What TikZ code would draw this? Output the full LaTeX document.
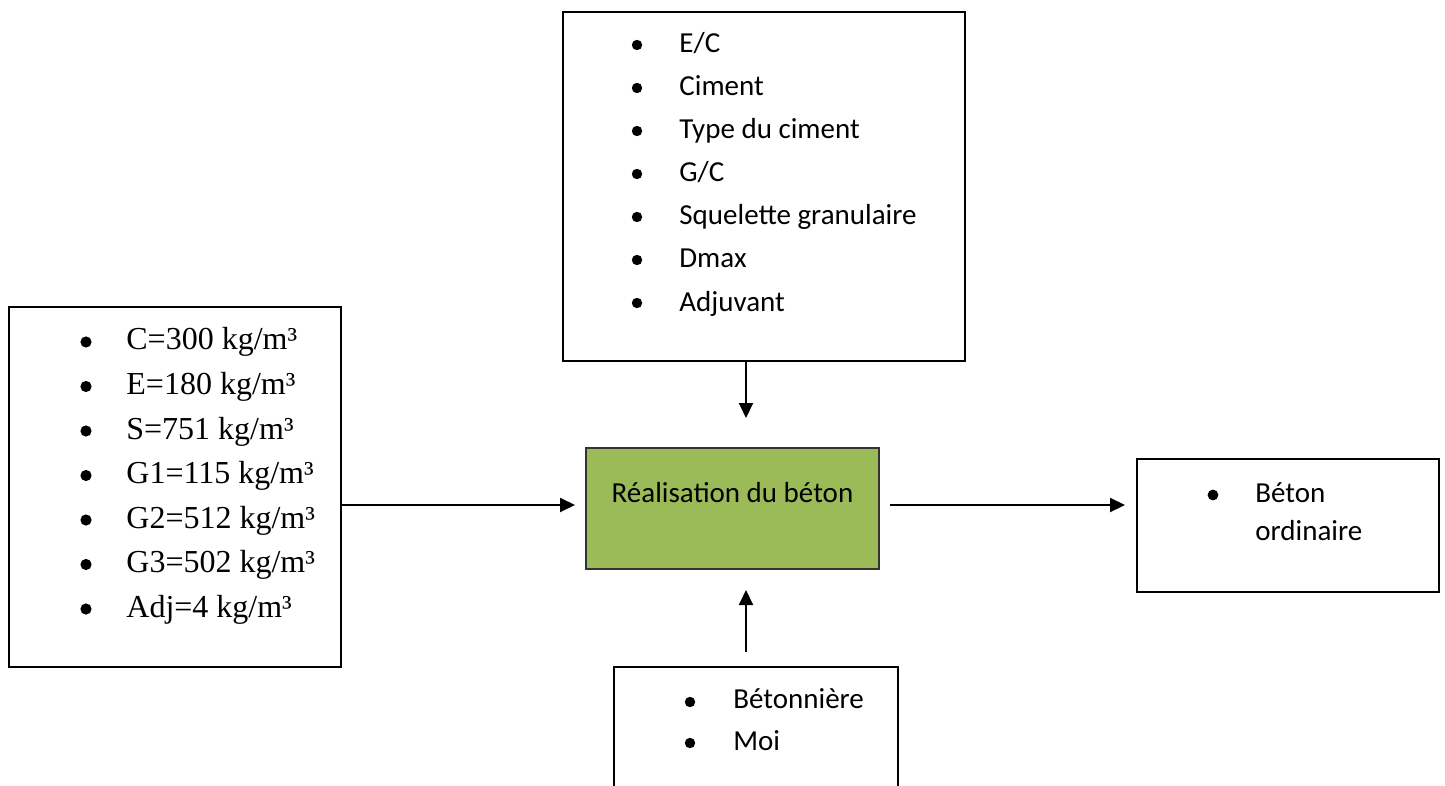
\documentclass[tikz,border=0pt]{standalone}
\usepackage{fontspec}
\setmainfont{Liberation Serif}
\newfontfamily\calib{Carlito}
\usetikzlibrary{fit,arrows.meta}
\definecolor{olive}{HTML}{9BBB59}
\tikzset{
  box/.style={draw=black, line width=1pt, inner sep=0pt},
  greenbox/.style={draw=black!80, fill=olive, line width=1pt, inner sep=0pt},
  arr/.style={line width=1pt, -{Triangle[length=7.5pt,width=7pt]}},
  cal/.style={anchor=base west, inner sep=0pt, font=\calib\fontsize{14.5pt}{17pt}\selectfont},
  tms/.style={anchor=base west, inner sep=0pt, font=\fontsize{16pt}{19pt}\selectfont},
  dot/.style={fill=black}
}
\begin{document}
\begin{tikzpicture}[x=0.5pt,y=-0.5pt]
\useasboundingbox (0,0) rectangle (1445,786);
\clip (0,0) rectangle (1445,786);
% boxes
\node[box, fit={(9,307) (341,667)}] (left) {};
\node[box, fit={(563,12) (965,361)}] (top) {};
\node[greenbox, fit={(586,448) (879,569)}] (green) {};
\node[box, fit={(1137,459) (1439,592)}] (right) {};
\node[box, fit={(614,667) (898,820)}] (bottom) {};
% left box list
\foreach \t [count=\i from 0] in {C=300 kg/m³, E=180 kg/m³, S=751 kg/m³, G1=115 kg/m³, G2=512 kg/m³, G3=502 kg/m³, Adj=4 kg/m³}{
  \fill[dot] (86,{342+44.5*\i}) circle (5.6);
  \node[tms] (l\i) at (126,{350+44.5*\i}) {\t};
}
% top box list
\foreach \t [count=\i from 0] in {E/C, Ciment, Type du ciment, G/C, Squelette granulaire, Dmax, Adjuvant}{
  \fill[dot] (637,{45+43*\i}) circle (5.2);
  \node[cal] (t\i) at (679,{53+43*\i}) {\t};
}
% green box text
\node[cal, anchor=base] (gtext) at (732.5,502) {Réalisation du béton};
% right box text
\fill[dot] (1213,495) circle (5.4);
\node[cal] (r0) at (1255,502) {Béton};
\node[cal] (r1) at (1255,540) {ordinaire};
% bottom box text
\fill[dot] (690,702) circle (5.2);
\node[cal] (b0) at (733,708) {Bétonnière};
\fill[dot] (690,743) circle (5.2);
\node[cal] (b1) at (733,750) {Moi};
% connectors
\coordinate (a1) at (746,418);
\coordinate (a2) at (575,505);
\coordinate (s3) at (890,505);
\coordinate (t3) at (1125,505);
\coordinate (s4) at (746,652);
\coordinate (t4) at (746,590);
\draw[arr] (top.south -| a1) -- (a1);
\draw[arr] (left.east |- a2) -- (a2);
\draw[arr] (s3) -- (t3);
\draw[arr] (s4) -- (t4);
\end{tikzpicture}
\end{document}
